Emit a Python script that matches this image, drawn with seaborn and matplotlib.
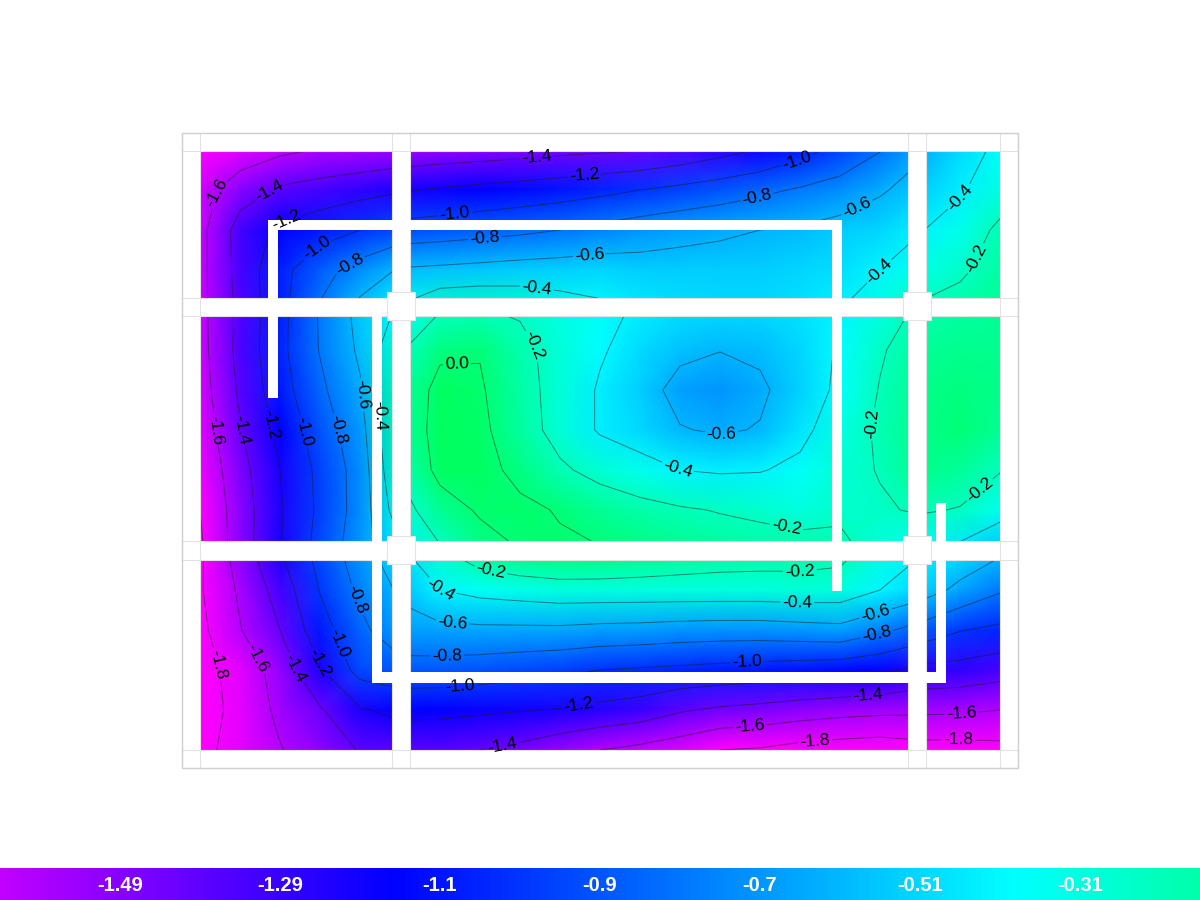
import matplotlib
matplotlib.use("Agg")
import matplotlib.pyplot as plt
import matplotlib.patches as mpatches
import numpy as np
import pandas as pd
import seaborn as sns
from matplotlib.colors import LinearSegmentedColormap

# values, one list per row (every 40 px)
row_150 = [-1.80, -1.72, -1.64, -1.59, -1.57, -1.54, -1.52, -1.50, -1.48, -1.45, -1.43, -1.41, -1.35, -1.27, -1.19, -1.07, -0.95, -0.81, -0.63, -0.48, -0.36]
row_190 = [-1.68, -1.49, -1.37, -1.32, -1.27, -1.22, -1.18, -1.15, -1.12, -1.09, -1.05, -1.00, -0.95, -0.90, -0.84, -0.78, -0.72, -0.62, -0.53, -0.42, -0.30]
row_230 = [-1.66, -1.32, -1.16, -1.08, -1.00, -0.92, -0.90, -0.87, -0.84, -0.80, -0.75, -0.70, -0.66, -0.63, -0.60, -0.58, -0.53, -0.50, -0.41, -0.32, -0.16]
row_270 = [-1.66, -1.33, -1.06, -0.87, -0.72, -0.58, -0.56, -0.54, -0.52, -0.51, -0.50, -0.52, -0.52, -0.52, -0.52, -0.50, -0.47, -0.40, -0.31, -0.23, -0.12]
row_310 = [-1.66, -1.35, -1.06, -0.78, -0.54, -0.37, -0.21, -0.19, -0.22, -0.30, -0.36, -0.42, -0.47, -0.48, -0.48, -0.46, -0.40, -0.29, -0.17, -0.13, -0.09]
row_350 = [-1.67, -1.34, -1.05, -0.79, -0.57, -0.22, -0.03, -0.01, -0.15, -0.27, -0.38, -0.48, -0.56, -0.595, -0.57, -0.50, -0.38, -0.22, -0.10, -0.07, -0.07]
row_390 = [-1.69, -1.37, -1.08, -0.84, -0.62, -0.13, 0.05, 0.02, -0.13, -0.27, -0.42, -0.52, -0.66, -0.70, -0.63, -0.51, -0.36, -0.19, -0.06, -0.03, -0.06]
row_430 = [-1.72, -1.41, -1.15, -0.90, -0.68, -0.12, 0.06, 0.04, -0.11, -0.27, -0.42, -0.49, -0.59, -0.62, -0.59, -0.45, -0.30, -0.17, -0.05, -0.01, -0.08]
row_470 = [-1.76, -1.47, -1.20, -0.95, -0.72, -0.18, 0.05, 0.05, -0.04, -0.17, -0.26, -0.33, -0.40, -0.42, -0.41, -0.36, -0.26, -0.19, -0.06, -0.10, -0.19]
row_510 = [-1.80, -1.50, -1.22, -0.96, -0.72, -0.28, -0.08, 0.02, 0.03, -0.01, -0.09, -0.14, -0.18, -0.21, -0.24, -0.28, -0.24, -0.22, -0.18, -0.21, -0.33]
row_550 = [-1.83, -1.50, -1.21, -0.93, -0.69, -0.43, -0.22, -0.07, 0.00, 0.02, 0.01, -0.03, -0.07, -0.10, -0.11, -0.12, -0.14, -0.28, -0.38, -0.45, -0.56]
row_590 = [-1.82, -1.57, -1.32, -0.99, -0.76, -0.57, -0.40, -0.34, -0.31, -0.28, -0.28, -0.28, -0.28, -0.28, -0.28, -0.27, -0.28, -0.40, -0.50, -0.65, -0.78]
row_630 = [-1.85, -1.61, -1.40, -1.08, -0.85, -0.66, -0.65, -0.64, -0.64, -0.64, -0.66, -0.67, -0.69, -0.70, -0.70, -0.68, -0.66, -0.76, -0.87, -0.99, -1.04]
row_670 = [-1.88, -1.72, -1.52, -1.22, -0.93, -0.88, -0.88, -0.90, -0.93, -0.96, -1.00, -1.02, -1.04, -1.06, -1.08, -1.10, -1.12, -1.16, -1.25, -1.27, -1.32]
row_710 = [-1.90, -1.73, -1.56, -1.42, -1.22, -1.14, -1.15, -1.17, -1.19, -1.21, -1.25, -1.29, -1.38, -1.43, -1.46, -1.50, -1.53, -1.55, -1.56, -1.57, -1.60]
row_750 = [-1.85, -1.73, -1.61, -1.50, -1.39, -1.37, -1.37, -1.40, -1.45, -1.53, -1.60, -1.65, -1.71, -1.80, -1.82, -1.87, -1.90, -1.92, -1.88, -1.88, -1.86]

legend_ticks = [-1.49, -1.29, -1.09, -0.89, -0.69, -0.49, -0.29]
legend_labels = ["-1.49", "-1.29", "-1.1", "-0.9", "-0.7", "-0.51", "-0.31"]

grid = pd.DataFrame([row_150, row_190, row_230, row_270, row_310, row_350, row_390, row_430,
                     row_470, row_510, row_550, row_590, row_630, row_670, row_710, row_750])

# where each contour label sits, in pixels of the picture
label_spots = {
    -1.8: [(216, 665), (815, 742), (958, 739)],
    -1.6: [(218, 193), (215, 430), (255, 660), (750, 728), (962, 715)],
    -1.4: [(537, 162), (265, 185), (240, 430), (290, 670), (502, 745), (868, 697)],
    -1.2: [(585, 180), (283, 210), (268, 425), (315, 665), (578, 702)],
    -1.0: [(797, 160), (455, 216), (312, 243), (302, 432), (335, 645), (460, 689), (747, 662)],
    -0.8: [(757, 197), (485, 238), (350, 265), (336, 430), (355, 600), (447, 658), (877, 636)],
    -0.6: [(857, 208), (590, 258), (358, 395), (452, 626), (877, 618), (722, 437)],
    -0.4: [(537, 287), (387, 415), (438, 595), (797, 609), (676, 472), (878, 270), (963, 200)],
    -0.2: [(535, 345), (975, 258), (878, 425), (980, 490), (786, 530), (490, 575), (800, 578)],
    0.0: [(457, 368)],
}

sns.set_theme(style="white")
plt.rcParams["font.family"] = ["Liberation Sans", "DejaVu Sans"]

cmap = LinearSegmentedColormap.from_list(
    "slab",
    [(0.0, "#ff00ff"), (0.342, "#0000ff"), (0.753, "#00ffff"), (1.0, "#00ff50")],
)

fig = plt.figure(figsize=(12, 9), dpi=100, facecolor="white")
ax = fig.add_axes([200 / 1200, 150 / 900, 800 / 1200, 600 / 900])
cax = fig.add_axes([0, 0, 1, 32 / 900])

sns.heatmap(grid, ax=ax, cmap=cmap, vmin=-1.8, vmax=0.1, shading="gouraud",
            xticklabels=False, yticklabels=False, cbar_ax=cax,
            cbar_kws={"orientation": "horizontal"})
ax.set_xlim(0, 20)
ax.set_ylim(15, 0)
ax.set_xlabel("")
ax.set_ylabel("")


def px(x, y):
    return (x - 200) / 40, (y - 150) / 40


def box(x0, y0, x1, y1, **kw):
    kw.setdefault("zorder", 5)
    r = mpatches.Rectangle(px(x0, y0), (x1 - x0) / 40, (y1 - y0) / 40, clip_on=False, **kw)
    ax.add_patch(r)


# beams and columns over the map
beams = [(182, 133, 1018, 151), (182, 750, 1018, 768), (182, 133, 200, 768), (1000, 133, 1018, 768),
         (392, 133, 410, 768), (908, 133, 926, 768), (182, 298, 1018, 316), (182, 541, 1018, 560)]
for b in beams:
    box(*b, facecolor="white", edgecolor="none")
for b in beams:
    box(*b, facecolor="none", edgecolor="#e2e2e2", linewidth=0.8, zorder=5.1)
box(182, 133, 1018, 768, facecolor="none", edgecolor="#d0d0d0", linewidth=1.0, zorder=5.2)

walls = [(268, 220, 278, 398), (268, 220, 842, 230), (832, 220, 842, 591),
         (372, 310, 382, 683), (372, 672, 946, 683), (936, 503, 946, 683)]
for w in walls:
    box(*w, facecolor="white", edgecolor="none", zorder=5.3)

for cx, cy in [(401, 306), (917, 306), (401, 550), (917, 550)]:
    box(cx - 14, cy - 14, cx + 14, cy + 14, facecolor="white", edgecolor="#e4e4e4", linewidth=0.8, zorder=5.4)

# one contour set per level so each label lands on its own line
xs = np.arange(grid.shape[1])
ys = np.arange(grid.shape[0])
for lev, spots in label_spots.items():
    cs = ax.contour(xs, ys, grid.values, levels=[lev], colors="#1a1a1a", linewidths=0.7,
                    linestyles="solid", alpha=0.5, zorder=3)
    texts = ax.clabel(cs, manual=[px(*s) for s in spots], fmt="%.1f", fontsize=12.5, colors="black", inline_spacing=2)
    for t in texts:
        t.set_zorder(6)
        t.set_clip_on(False)
        t.set_alpha(1)

# legend bar along the bottom edge
cax.set_axisbelow(False)
cax.set_xlim(-1.64, -0.14)
cax.set_xticks(legend_ticks)
cax.set_xticklabels(legend_labels, fontweight="bold")
cax.tick_params(axis="x", length=0, pad=-17, labelcolor="white", labelsize=14.5)

fig.savefig("out.png", dpi=100)
